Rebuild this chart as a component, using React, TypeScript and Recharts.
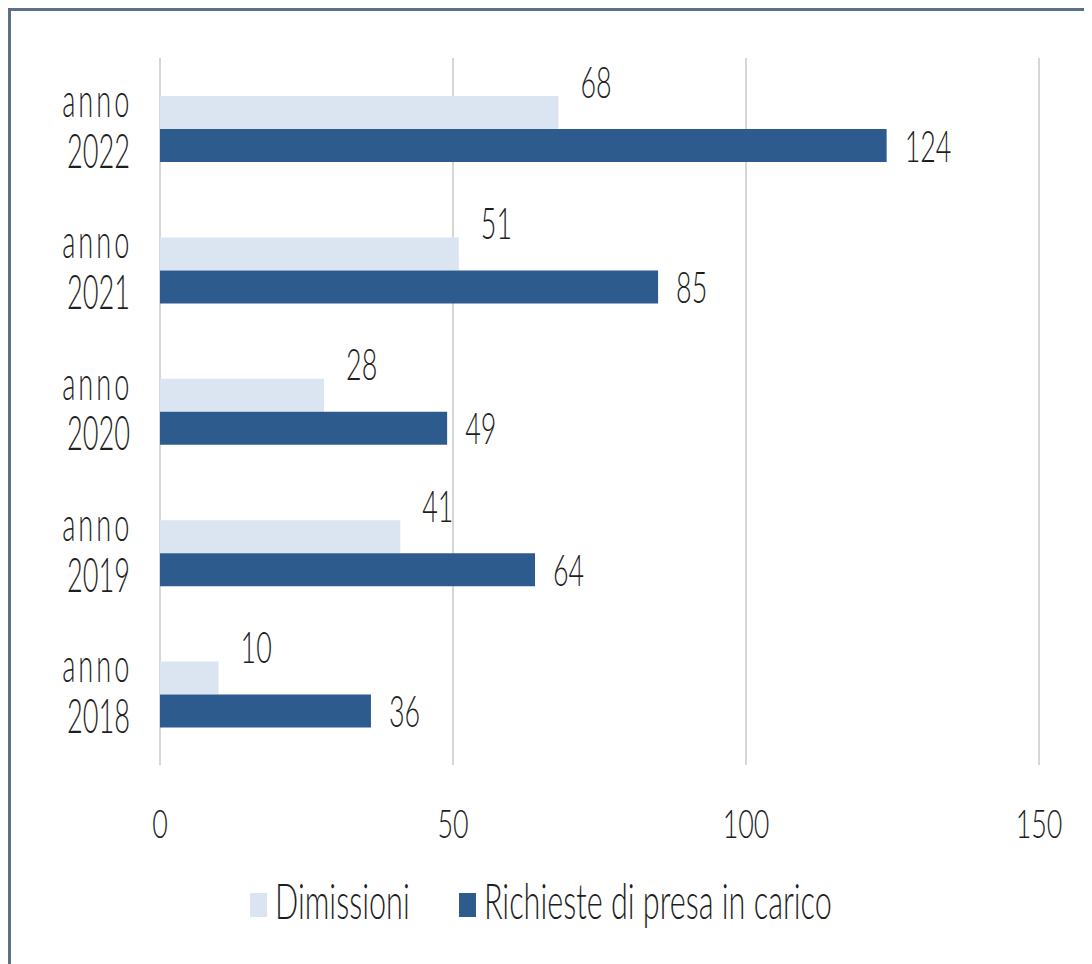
import React from 'react';
import { BarChart, Bar, XAxis, YAxis, CartesianGrid, Legend, LabelList } from 'recharts';

const anni = ['2022', '2021', '2020', '2019', '2018'];
const dimissioni = [68, 51, 28, 41, 10];
const richieste = [124, 85, 49, 64, 36];
const xTicks = [0, 50, 100, 150];

const LIGHT = '#dbe5f1';
const DARK = '#2e5b8e';
const FONT = "Lato, 'Open Sans', sans-serif";
const INK = '#1e1e1e';

const data = anni.map((a, i) => ({
  anno: a,
  dimissioni: dimissioni[i],
  richieste: richieste[i],
}));

// thin, tall and narrow text like the original's font
const Txt = ({ x, y, sx = 0.79, sy = 1.18, size = 34, anchor = 'start', children }: any) => (
  <text
    transform={`translate(${x},${y}) scale(${sx},${sy})`}
    textAnchor={anchor}
    fontFamily={FONT}
    fontWeight={300}
    fontSize={size}
    fill={INK}
  >
    {children}
  </text>
);

// two lines in one text: "anno" over the year
const YTick = ({ x, y, payload }: any) => (
  <text
    transform={`translate(${x - 30},${y - 12}) scale(0.8,1.37)`}
    textAnchor="end"
    fontFamily={FONT}
    fontWeight={300}
    fontSize={34}
    fill={INK}
  >
    <tspan x={3} dy={0} style={{ letterSpacing: 3.75 }}>anno</tspan>
    <tspan x={0} dy={37.2}>{payload.value}</tspan>
  </text>
);

const XTick = ({ x, y, payload }: any) => (
  <Txt x={x} y={y + 73} anchor="middle">{payload.value}</Txt>
);

const lightLabel = ({ x, y, width, height, value }: any) => (
  <Txt x={x + width + 22} y={y + height / 2 - 15} sy={1.25}>{value}</Txt>
);

const darkLabel = ({ x, y, width, height, value }: any) => (
  <Txt x={x + width + 18} y={y + height / 2 + 16} sy={1.25}>{value}</Txt>
);

const legendItems = [
  { name: 'Dimissioni', color: LIGHT, left: 239 },
  { name: 'Richieste di presa in carico', color: DARK, left: 448 },
];

const LegendBox = () => (
  <div style={{ position: 'relative', height: 50, width: '100%' }}>
    {legendItems.map((it) => (
      <div
        key={it.name}
        style={{ position: 'absolute', left: it.left, top: 0, height: 50, display: 'flex', alignItems: 'center' }}
      >
        <span style={{ width: 17, height: 24, background: it.color, marginTop: 10, marginRight: 8 }} />
        <span
          style={{
            fontFamily: FONT,
            fontWeight: 300,
            fontSize: 34,
            color: INK,
            display: 'inline-block',
            transform: 'scale(0.9, 1.43)',
            transformOrigin: 'left center',
            lineHeight: '50px',
            whiteSpace: 'nowrap',
          }}
        >
          {it.name}
        </span>
      </div>
    ))}
  </div>
);

export default function App() {
  return (
    <div
      style={{
        width: 1081,
        height: 953,
        borderTop: '3px solid #5d6f88',
        borderLeft: '3px solid #5d6f88',
        background: '#fff',
      }}
    >
      <BarChart
        width={1081}
        height={953}
        data={data}
        layout="vertical"
        margin={{ top: 47, right: 53, left: 0, bottom: 79 }}
        barSize={33}
        barGap={0}
      >
        <CartesianGrid horizontal={false} stroke="#d6d6d6" strokeWidth={2} />
        <XAxis
          type="number"
          domain={[0, 150]}
          ticks={xTicks}
          tickLine={false}
          axisLine={false}
          tickSize={0}
          tickMargin={0}
          height={70}
          tick={<XTick />}
        />
        <YAxis
          type="category"
          dataKey="anno"
          width={149}
          tickLine={false}
          axisLine={false}
          tickSize={0}
          tickMargin={0}
          tick={<YTick />}
        />
        <Legend
          verticalAlign="bottom"
          content={<LegendBox />}
          wrapperStyle={{ left: 0, width: 1081, bottom: 39 }}
        />
        <Bar dataKey="dimissioni" name="Dimissioni" fill={LIGHT} isAnimationActive={false}>
          <LabelList dataKey="dimissioni" content={lightLabel} />
        </Bar>
        <Bar dataKey="richieste" name="Richieste di presa in carico" fill={DARK} isAnimationActive={false}>
          <LabelList dataKey="richieste" content={darkLabel} />
        </Bar>
      </BarChart>
    </div>
  );
}
